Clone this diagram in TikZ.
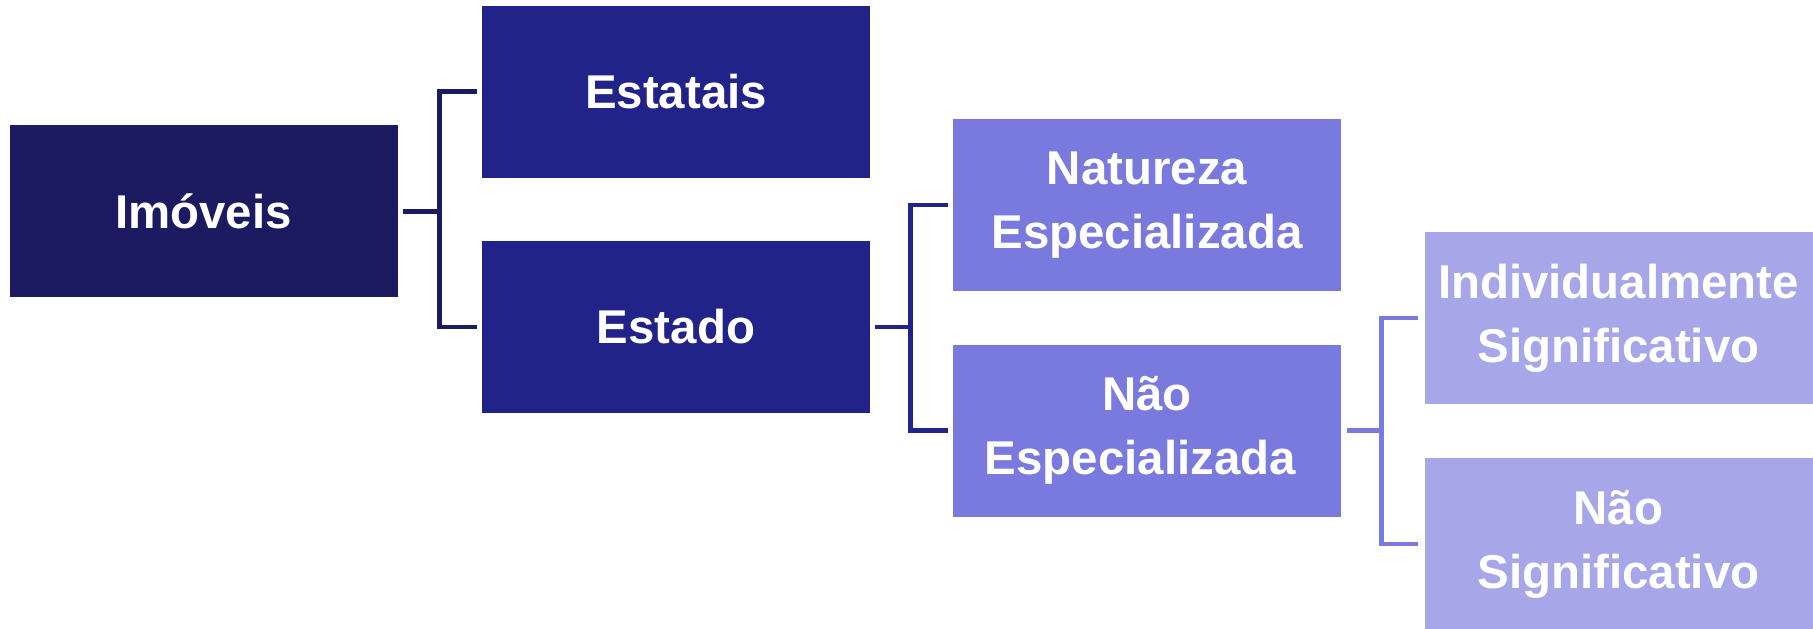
\documentclass[tikz,border=0pt]{standalone}
\usepackage{fontspec}
\setmainfont{Liberation Sans}
\definecolor{cA}{HTML}{1C1B62}
\definecolor{cB}{HTML}{222388}
\definecolor{cC}{HTML}{7A7ADE}
\definecolor{cD}{HTML}{A6A6E8}
\tikzset{
  box/.style={rectangle, inner sep=0pt, minimum width=194pt, minimum height=86pt,
    text=white, align=center, font=\fontsize{23.7pt}{32pt}\selectfont\bfseries},
  conn/.style={line width=2.4pt, line join=miter, line cap=butt}
}
\begin{document}
\begin{tikzpicture}[x=0.5pt,y=-0.5pt]
\useasboundingbox (0,0) rectangle (1813,628);
\clip (0,0) rectangle (1813,628);
\node[box, fill=cA] (imo) at (203.6,211.3) {Imóveis};
\node[box, fill=cB] (est) at (676,91.5) {Estatais};
\node[box, fill=cB] (estado) at (676,327) {Estado};
\node[box, fill=cC] (nat) at (1147,205) {Natureza\\Especializada};
\node[box, fill=cC] (naoesp) at (1147,430.7) {Não\\Especializada\hspace*{0.28em}};
\node[box, fill=cD] (ind) at (1618.5,318) {Individualmente\\Significativo};
\node[box, fill=cD] (naosig) at (1618.5,544) {Não\\Significativo};
% bracket 1
\draw[conn, cA] ([xshift=2.5pt]imo.east) -- ++(37,0);
\draw[conn, cA] ([xshift=-2.5pt]est.west) -- ++(-37,0) |- ([xshift=-2.5pt]estado.west);
% bracket 2
\draw[conn, cB] ([xshift=2.5pt]estado.east) -- ++(35,0);
\draw[conn, cB] ([xshift=-2.5pt]nat.west) -- ++(-37,0) |- ([xshift=-2.5pt]naoesp.west);
% bracket 3
\draw[conn, cC] ([xshift=3pt]naoesp.east) -- ++(35,0);
\draw[conn, cC] ([xshift=-3pt]ind.west) -- ++(-37,0) |- ([xshift=-3pt]naosig.west);
\end{tikzpicture}
\end{document}
